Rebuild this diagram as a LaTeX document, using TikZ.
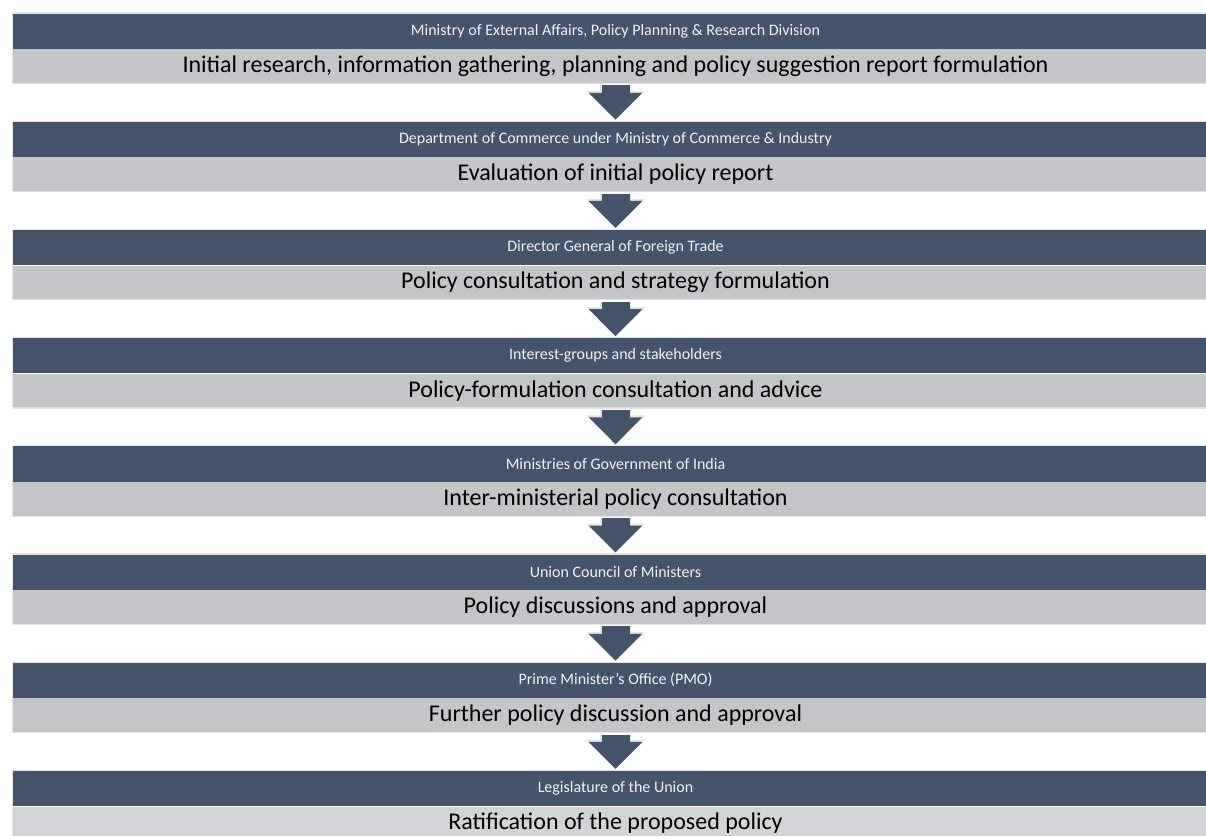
\documentclass[tikz,border=0pt]{standalone}
\usepackage{fontspec}
\setmainfont{Carlito}
\usetikzlibrary{positioning,arrows.meta,fit}
\definecolor{barblue}{HTML}{44546A}
\definecolor{bargrey}{HTML}{C3C5C9}
\definecolor{bargreylt}{HTML}{D3D4D7}
\definecolor{rimgrey}{HTML}{E4E4E4}

\begin{document}
\begin{tikzpicture}[x=1pt,y=-1pt,
    head/.style={fill=barblue,text=white!95!black,minimum width=1205pt,minimum height=35.5pt,inner sep=0pt,font=\fontsize{16}{18}\selectfont},
    task/.style={fill=bargrey,text=black,minimum width=1205pt,minimum height=34pt,inner sep=0pt,font=\fontsize{24}{28}\selectfont,below=0pt of #1},
    every fit/.style={draw=rimgrey,line width=1.2pt,inner sep=0pt},
    down/.style={barblue,line width=28pt,-{Triangle[width=52pt,length=27pt]},shorten <=2pt,shorten >=1.5pt,
        preaction={draw=rimgrey,line width=31pt,-{Triangle[width=57pt,length=29pt]}}}]
                                \useasboundingbox (0,0) rectangle (1206,835);

                                \node[head] (h1) at (615.5,31) {Ministry of External Affairs, Policy Planning \& Research Division};
                                \node[task=h1] (t1) {Initial research, information gathering, planning and policy suggestion report formulation};

                                \node[head] (h2) at (615.5,139.2) {Department of Commerce under Ministry of Commerce \& Industry};
                                \node[task=h2] (t2) {Evaluation of initial policy report};

                                \node[head] (h3) at (615.5,247.4) {Director General of Foreign Trade};
                                \node[task=h3] (t3) {Policy consultation and strategy formulation};

                                \node[head] (h4) at (615.5,355.6) {Interest-groups and stakeholders};
                                \node[task=h4] (t4) {Policy-formulation consultation and advice};

                                \node[head] (h5) at (615.5,463.8) {Ministries of Government of India};
                                \node[task=h5] (t5) {Inter-ministerial policy consultation};

                                \node[head] (h6) at (615.5,572) {Union Council of Ministers};
                                \node[task=h6] (t6) {Policy discussions and approval};

                                \node[head] (h7) at (615.5,680.2) {Prime Minister's Office (PMO)};
                                \node[task=h7] (t7) {Further policy discussion and approval};

                                \node[head] (h8) at (615.5,788.4) {Legislature of the Union};
                                \node[task=h8,fill=bargreylt] (t8) {Ratification of the proposed policy};

                                % light rim round each step
                                \node[fit=(h1) (t1)] {};
                                \node[fit=(h2) (t2)] {};
                                \node[fit=(h3) (t3)] {};
                                \node[fit=(h4) (t4)] {};
                                \node[fit=(h5) (t5)] {};
                                \node[fit=(h6) (t6)] {};
                                \node[fit=(h7) (t7)] {};
                                \node[fit=(h8) (t8)] {};

                                \draw[down] (t1) -- (h2);
                                \draw[down] (t2) -- (h3);
                                \draw[down] (t3) -- (h4);
                                \draw[down] (t4) -- (h5);
                                \draw[down] (t5) -- (h6);
                                \draw[down] (t6) -- (h7);
                                \draw[down] (t7) -- (h8);
                            \end{tikzpicture}
\end{document}
